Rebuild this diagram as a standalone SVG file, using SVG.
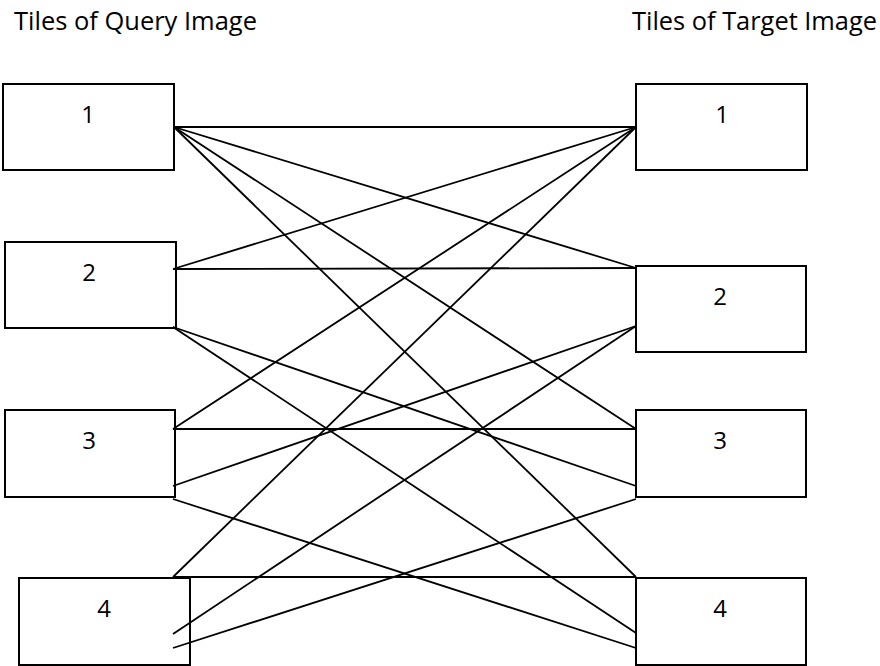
<svg xmlns="http://www.w3.org/2000/svg" width="880" height="666" viewBox="0 0 880 666">
<style>
.box{fill:#fff;stroke:#000;stroke-width:2}
.lbl{font-family:"Open Sans","Liberation Sans",sans-serif;font-size:24px;fill:#000;text-anchor:middle}
.ttl{font-family:"Open Sans","Liberation Sans",sans-serif;font-size:25px;fill:#000}
.c line{stroke:#000;stroke-width:1.8}
</style>
<rect width="880" height="666" fill="#fff"/>
<text class="ttl" x="14" y="29.5" textLength="243" lengthAdjust="spacingAndGlyphs">Tiles of Query Image</text>
<text class="ttl" x="632" y="29.5" textLength="245" lengthAdjust="spacingAndGlyphs">Tiles of Target Image</text>
<g id="q1"><rect class="box" x="3" y="84" width="171" height="86"/><text class="lbl" x="88" y="123">1</text></g>
<g id="q2"><rect class="box" x="5" y="242" width="171" height="86"/><text class="lbl" x="89" y="281">2</text></g>
<g id="q3"><rect class="box" x="5" y="410" width="170" height="87"/><text class="lbl" x="89" y="449">3</text></g>
<g id="q4"><rect class="box" x="19" y="578" width="171" height="87"/><text class="lbl" x="104" y="617">4</text></g>
<g id="t1"><rect class="box" x="636" y="84" width="171" height="86"/><text class="lbl" x="722" y="123">1</text></g>
<g id="t2"><rect class="box" x="636" y="266" width="170" height="86"/><text class="lbl" x="720" y="305">2</text></g>
<g id="t3"><rect class="box" x="636" y="410" width="170" height="87"/><text class="lbl" x="720" y="449">3</text></g>
<g id="t4"><rect class="box" x="636" y="578" width="170" height="87"/><text class="lbl" x="720" y="617">4</text></g>
<g class="c" id="connectors">
<line x1="174" y1="127" x2="636" y2="127"/>
<line x1="174" y1="127" x2="636" y2="268"/>
<line x1="174" y1="127" x2="636" y2="429"/>
<line x1="174" y1="127" x2="636" y2="577"/>
<line x1="173" y1="269" x2="636" y2="127"/>
<line x1="173" y1="269" x2="636" y2="268"/>
<line x1="173" y1="327" x2="636" y2="486"/>
<line x1="173" y1="327" x2="636" y2="633"/>
<line x1="173" y1="429" x2="636" y2="127"/>
<line x1="173" y1="429" x2="636" y2="429"/>
<line x1="173" y1="486" x2="636" y2="326"/>
<line x1="173" y1="499" x2="636" y2="648"/>
<line x1="173" y1="577" x2="636" y2="127"/>
<line x1="173" y1="577" x2="636" y2="577"/>
<line x1="173" y1="634" x2="636" y2="326"/>
<line x1="173" y1="648" x2="636" y2="499"/>
</g>
</svg>
